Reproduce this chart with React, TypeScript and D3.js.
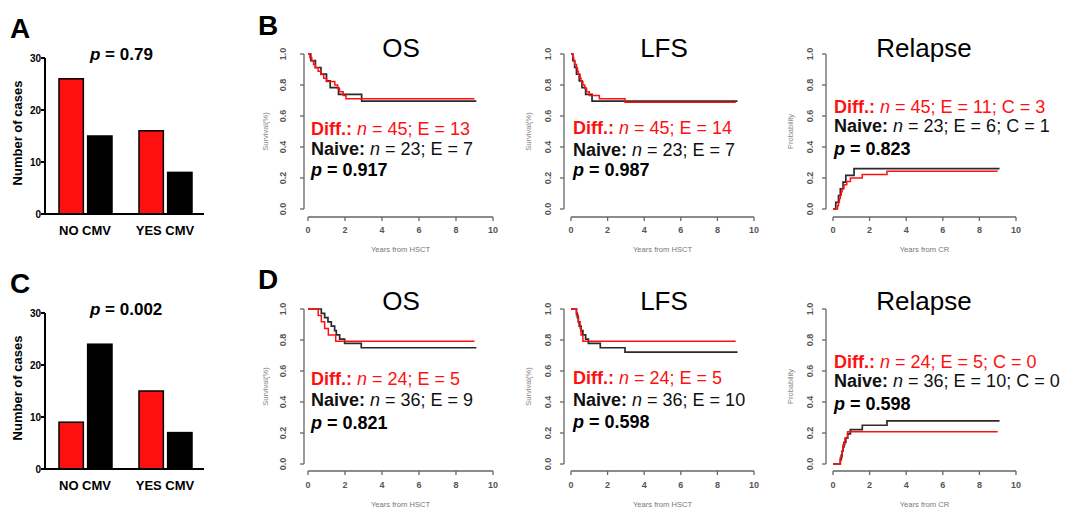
import React from "react";
import * as d3 from "d3";

const FONT = "'Liberation Sans', Arial, Helvetica, sans-serif";
const RED = "#ff1010";

// ---- bar charts (panels A and C)
const cmvGroups = ["NO CMV", "YES CMV"];
const cellTypes = ["Diff.", "Naive"];
const caseTicks = [0, 10, 20, 30];
const casesDiffA = [26, 16];
const casesNaiveA = [15, 8];
const casesDiffC = [9, 15];
const casesNaiveC = [24, 7];
const pValueA = "0.79";
const pValueC = "0.002";

// ---- survival / incidence curves: [years, probability]
type Pt = [number, number];

const osDiffB: Pt[] = [[0, 1], [0.1, 0.978], [0.2, 0.956], [0.3, 0.933], [0.4, 0.911], [0.55, 0.889], [0.7, 0.867], [0.85, 0.844], [1.0, 0.822], [1.45, 0.8], [1.6, 0.778], [1.7, 0.756], [1.9, 0.733], [2.05, 0.711], [9.0, 0.711]];
const osNaiveB: Pt[] = [[0, 1], [0.15, 0.957], [0.4, 0.913], [0.7, 0.87], [1.0, 0.826], [1.2, 0.783], [1.65, 0.739], [2.9, 0.696], [9.1, 0.696]];
const lfsDiffB: Pt[] = [[0, 1], [0.1, 0.978], [0.15, 0.956], [0.2, 0.933], [0.3, 0.911], [0.35, 0.889], [0.4, 0.867], [0.5, 0.844], [0.55, 0.822], [0.65, 0.8], [0.75, 0.778], [0.85, 0.756], [1.0, 0.733], [1.55, 0.711], [2.95, 0.689], [9.0, 0.689]];
const lfsNaiveB: Pt[] = [[0, 1], [0.1, 0.957], [0.2, 0.913], [0.3, 0.87], [0.45, 0.826], [0.6, 0.783], [0.8, 0.739], [1.15, 0.696], [9.1, 0.696]];
const relDiffB: Pt[] = [[0, 0], [0.25, 0.022], [0.3, 0.044], [0.35, 0.067], [0.4, 0.089], [0.45, 0.111], [0.5, 0.133], [0.6, 0.156], [0.75, 0.178], [0.95, 0.2], [1.6, 0.222], [2.95, 0.244], [9.0, 0.244]];
const relNaiveB: Pt[] = [[0, 0], [0.15, 0.043], [0.3, 0.087], [0.4, 0.13], [0.55, 0.174], [0.7, 0.217], [1.15, 0.261], [9.1, 0.261]];

const osDiffD: Pt[] = [[0, 1], [0.55, 0.958], [0.72, 0.917], [0.9, 0.875], [1.1, 0.833], [1.5, 0.792], [9.0, 0.792]];
const osNaiveD: Pt[] = [[0, 1], [0.72, 0.972], [0.9, 0.944], [1.08, 0.917], [1.26, 0.889], [1.44, 0.861], [1.53, 0.833], [1.71, 0.806], [1.98, 0.778], [2.88, 0.75], [9.1, 0.75]];
const lfsDiffD: Pt[] = [[0, 1], [0.3, 0.958], [0.4, 0.917], [0.5, 0.875], [0.55, 0.833], [0.65, 0.792], [9.0, 0.792]];
const lfsNaiveD: Pt[] = [[0, 1], [0.3, 0.972], [0.35, 0.944], [0.4, 0.917], [0.45, 0.889], [0.55, 0.861], [0.65, 0.833], [0.8, 0.806], [0.95, 0.778], [1.6, 0.75], [2.95, 0.722], [9.1, 0.722]];
const relDiffD: Pt[] = [[0, 0], [0.4, 0.042], [0.5, 0.083], [0.55, 0.125], [0.65, 0.167], [0.8, 0.208], [9.0, 0.208]];
const relNaiveD: Pt[] = [[0, 0], [0.4, 0.028], [0.45, 0.056], [0.5, 0.083], [0.55, 0.111], [0.6, 0.139], [0.7, 0.167], [0.8, 0.194], [0.95, 0.222], [1.6, 0.25], [2.95, 0.278], [9.1, 0.278]];

const endpointTitles = ["OS", "LFS", "Relapse"];
const xAxisTitles = ["Years from HSCT", "Years from HSCT", "Years from CR"];
const yAxisTitles = ["Survival(%)", "Survival(%)", "Probability"];
const yearTicks = [0, 2, 4, 6, 8, 10];
const probTicks = [0, 0.2, 0.4, 0.6, 0.8, 1.0];

const diffNB = [45, 45, 45];
const diffEB = [13, 14, 11];
const diffCB = [null, null, 3];
const naiveNB = [23, 23, 23];
const naiveEB = [7, 7, 6];
const naiveCB = [null, null, 1];
const pValuesB = ["0.917", "0.987", "0.823"];

const diffND = [24, 24, 24];
const diffED = [5, 5, 5];
const diffCD = [null, null, 0];
const naiveND = [36, 36, 36];
const naiveED = [9, 10, 10];
const naiveCD = [null, null, 0];
const pValuesD = ["0.821", "0.598", "0.598"];

// layout of the three curve columns and two rows
const columns = [
  { axisX: 304, x0: 308, x10: 493, textX: 311, titleX: 401, tickLabX: 283, yLabX: 265 },
  { axisX: 564, x0: 571, x10: 754, textX: 573, titleX: 664, tickLabX: 548, yLabX: 528 },
  { axisX: 826, x0: 833, x10: 1016, textX: 834, titleX: 924, tickLabX: 810, yLabX: 790 },
];
const rows = [
  { y1: 54, y0: 209, axisY: 217, titleY: 57, tickY: 230, xLabY: 249, letterY: 35, letter: "B",
    stats: [[135, 155, 176], [134, 156, 176], [113, 132, 155]] },
  { y1: 309, y0: 464, axisY: 471, titleY: 310, tickY: 485, xLabY: 504, letterY: 289, letter: "D",
    stats: [[385, 406, 429], [384, 406, 428], [368, 387, 410]] },
];

function BarPanel({ dy, letter, diff, naive, p }) {
  const x = d3.scaleBand().domain(cmvGroups).range([45, 205]);
  const sub = d3.scaleBand().domain(cellTypes).range([14, 67]).paddingInner(0.15);
  const y = d3.scaleLinear().domain([0, 30]).range([214, 58]);
  const series = [diff, naive];
  return (
    <g transform={`translate(0,${dy})`}>
      <text x={10} y={38} fontSize={28} fontWeight="bold">{letter}</text>
      <text x={90} y={60} fontSize={17} fontWeight="bold">
        <tspan fontStyle="italic">p</tspan> = {p}
      </text>
      {cmvGroups.map((g, i) =>
        cellTypes.map((c, j) => (
          <rect
            key={g + c}
            x={x(g) + sub(c)}
            y={y(series[j][i])}
            width={sub.bandwidth()}
            height={y(0) - y(series[j][i])}
            fill={j === 0 ? RED : "#000"}
            stroke="#000"
            strokeWidth={1.5}
          />
        ))
      )}
      <line x1={45} x2={45} y1={y(30)} y2={y(0)} stroke="#000" strokeWidth={2} />
      <line x1={41} x2={204} y1={y(0)} y2={y(0)} stroke="#000" strokeWidth={2} />
      {caseTicks.map((t) => (
        <g key={t}>
          <line x1={41} x2={45} y1={y(t)} y2={y(t)} stroke="#000" strokeWidth={2} />
          <text x={41} y={y(t)} textAnchor="end" dominantBaseline="central" fontSize={10} fontWeight="bold">{t}</text>
        </g>
      ))}
      {cmvGroups.map((g) => (
        <text key={g} x={x(g) + x.bandwidth() / 2} y={235} textAnchor="middle" fontSize={13} fontWeight="bold">{g}</text>
      ))}
      <text transform="translate(22,133) rotate(-90)" textAnchor="middle" fontSize={13} fontWeight="bold">Number of cases</text>
    </g>
  );
}

function CurvePanel({ col, row, k, naive, diff, dN, dE, dC, nN, nE, nC, p }) {
  const x = d3.scaleLinear().domain([0, 10]).range([col.x0, col.x10]);
  const y = d3.scaleLinear().domain([0, 1]).range([row.y0, row.y1]);
  const line = d3.line<Pt>().x((d) => x(d[0])).y((d) => y(d[1])).curve(d3.curveStepAfter);
  const [b1, b2, b3] = row.stats[k];
  return (
    <g>
      <text x={col.titleX} y={row.titleY} textAnchor="middle" fontSize={26}>{endpointTitles[k]}</text>
      <line x1={col.axisX} x2={col.axisX} y1={y(1)} y2={y(0)} stroke="#666" strokeWidth={1.3} />
      {probTicks.map((t) => (
        <g key={t}>
          <line x1={col.axisX - 4} x2={col.axisX} y1={y(t)} y2={y(t)} stroke="#666" strokeWidth={1.3} />
          <text transform={`translate(${col.tickLabX},${y(t)}) rotate(-90)`} textAnchor="middle" dominantBaseline="central" fontSize={9} fontWeight="bold" fill="#555">{t.toFixed(1)}</text>
        </g>
      ))}
      <line x1={x(0)} x2={x(10)} y1={row.axisY} y2={row.axisY} stroke="#666" strokeWidth={1.3} />
      {yearTicks.map((t) => (
        <g key={t}>
          <line x1={x(t)} x2={x(t)} y1={row.axisY} y2={row.axisY + 4} stroke="#666" strokeWidth={1.3} />
          <text x={x(t)} y={row.tickY} textAnchor="middle" dominantBaseline="central" fontSize={9} fontWeight="bold" fill="#555">{t}</text>
        </g>
      ))}
      <text transform={`translate(${col.yLabX},${(y(0) + y(1)) / 2}) rotate(-90)`} textAnchor="middle" dominantBaseline="central" fontSize={7.5} fill="#888">{yAxisTitles[k]}</text>
      <text x={(x(0) + x(10)) / 2} y={row.xLabY} textAnchor="middle" dominantBaseline="central" fontSize={7.6} fill="#777">{xAxisTitles[k]}</text>
      <path d={line(naive)} fill="none" stroke="#2a2a2a" strokeWidth={1.7} />
      <path d={line(diff)} fill="none" stroke={RED} strokeWidth={1.5} />
      <text x={col.textX} y={b1} fontSize={18} fill={RED}>
        <tspan fontWeight="bold">Diff.:</tspan> <tspan fontStyle="italic">n</tspan>{` = ${dN}; E = ${dE}`}{dC != null ? `; C = ${dC}` : ""}
      </text>
      <text x={col.textX} y={b2} fontSize={18} fill="#111">
        <tspan fontWeight="bold">Naive:</tspan> <tspan fontStyle="italic">n</tspan>{` = ${nN}; E = ${nE}`}{nC != null ? `; C = ${nC}` : ""}
      </text>
      <text x={col.textX} y={b3} fontSize={18} fontWeight="bold" fill="#000">
        <tspan fontStyle="italic">p</tspan> = {p}
      </text>
    </g>
  );
}

export default function App() {
  const curvesB = [[osNaiveB, osDiffB], [lfsNaiveB, lfsDiffB], [relNaiveB, relDiffB]];
  const curvesD = [[osNaiveD, osDiffD], [lfsNaiveD, lfsDiffD], [relNaiveD, relDiffD]];
  return (
    <svg
      width={1067}
      height={511}
      style={{ position: "absolute", left: 0, top: 0, background: "#fff", fontFamily: FONT }}
    >
      <BarPanel dy={0} letter="A" diff={casesDiffA} naive={casesNaiveA} p={pValueA} />
      <BarPanel dy={255} letter="C" diff={casesDiffC} naive={casesNaiveC} p={pValueC} />
      {rows.map((row, r) => (
        <g key={row.letter}>
          <text x={258} y={row.letterY} fontSize={28} fontWeight="bold">{row.letter}</text>
          {columns.map((col, k) => {
            const c = r === 0 ? curvesB[k] : curvesD[k];
            return (
              <CurvePanel
                key={k}
                col={col}
                row={row}
                k={k}
                naive={c[0]}
                diff={c[1]}
                dN={r === 0 ? diffNB[k] : diffND[k]}
                dE={r === 0 ? diffEB[k] : diffED[k]}
                dC={r === 0 ? diffCB[k] : diffCD[k]}
                nN={r === 0 ? naiveNB[k] : naiveND[k]}
                nE={r === 0 ? naiveEB[k] : naiveED[k]}
                nC={r === 0 ? naiveCB[k] : naiveCD[k]}
                p={r === 0 ? pValuesB[k] : pValuesD[k]}
              />
            );
          })}
        </g>
      ))}
    </svg>
  );
}
